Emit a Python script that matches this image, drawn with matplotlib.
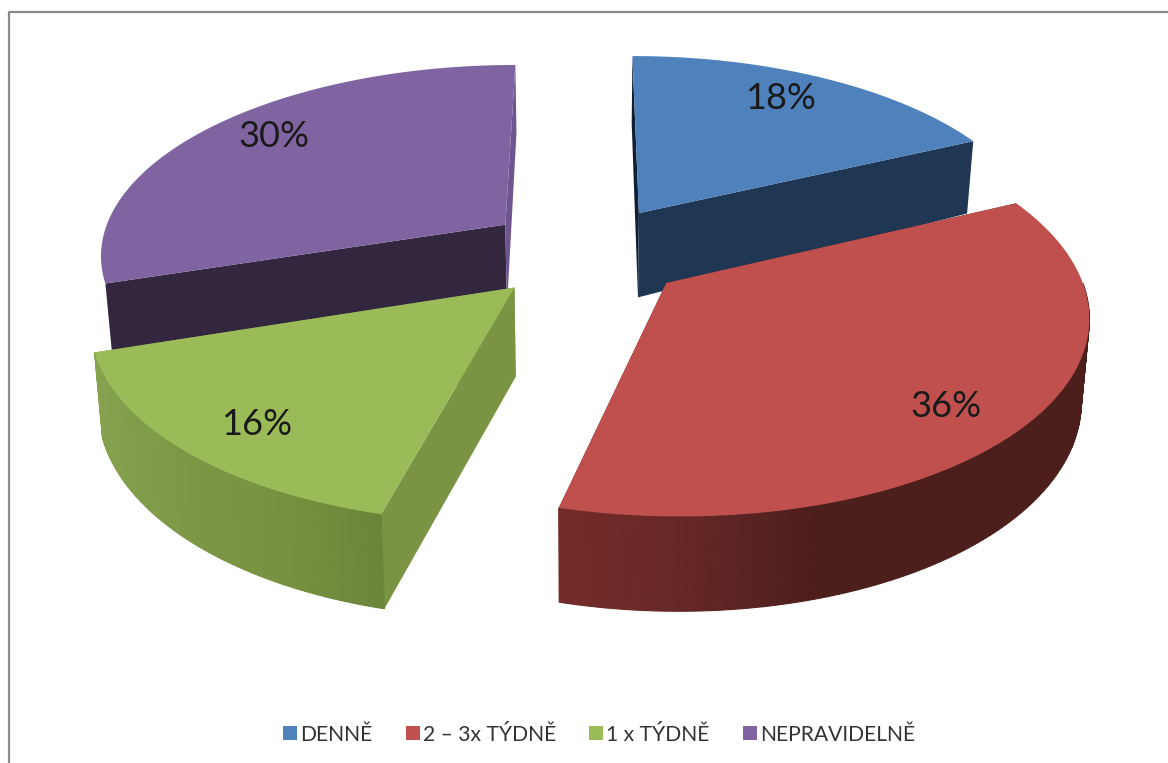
import matplotlib
matplotlib.use("Agg")
import matplotlib.pyplot as plt
from matplotlib.colors import to_rgb
from matplotlib.patches import Patch
import numpy as np

categories = ["DENNĚ", "2 – 3x TÝDNĚ", "1 x TÝDNĚ", "NEPRAVIDELNĚ"]
values = [18, 36, 16, 30]
labels = ["18%", "36%", "16%", "30%"]
colors = ["#4F81BD", "#C0504D", "#9BBB59", "#8064A2"]
# rim shading, left to right along each slice (None: rim not seen)
rim_colors = [None,
              ["#742C2A", "#652725", "#4C1E1C", "#4C1E1C", "#4C1E1C"],
              ["#86A24E", "#7C9745", "#76913F", "#6C843A"],
              None]
# cut faces at the start and the end of each slice
cut_colors = [("#0F1F33", "#1F3752"), ("#5A2320", "#5A2320"), ("#7A9444", "#7A9444"), ("#33263F", "#6E5590")]
# label shift in pixels from the default spot
label_shift = [(5, -14), (26, 26), (-29, 23), (-17, -15)]

# camera and pie
X0, Y0 = 586, 252
A, B = 407, 190
K = 0.144
EXPLODE = 0.25
DEPTH = 79
APEX_DEPTH = 1.1
TAPER = 0.016


def project(u, v, h=0.0):
    s = 1 / (1 - K * v)
    return X0 + A * u * s * (1 - TAPER * h), Y0 + B * v * s + DEPTH * h * s


def arc(start, end, n=160):
    t = np.radians(np.linspace(start, end, n))
    return np.sin(t), -np.cos(t)


fig = plt.figure(figsize=(11.68, 7.63), dpi=100)
ax = fig.add_axes([0, 0, 1, 1])
ax.set_xlim(0, 1168)
ax.set_ylim(763, 0)
ax.axis("off")

# frame of the chart area
ax.plot([9, 9, 1168], [763, 12, 12], color="#8A8A8A", lw=1.6)

edges = np.cumsum([0] + values) * 3.6
slices = []
for i in range(len(values)):
    start, end = edges[i], edges[i + 1]
    mid = np.radians((start + end) / 2)
    slices.append((start, end, EXPLODE * np.sin(mid), -EXPLODE * np.cos(mid)))

# back to front
for i in [0, 3, 2, 1]:
    start, end, au, av = slices[i]
    su, sv = arc(start, end)
    u, v = au + su, av + sv

    # cut faces
    for n, idx in enumerate((0, -1)):
        xs, ys = [], []
        for pu, pv, h in [(au, av, 0), (u[idx], v[idx], 0), (u[idx], v[idx], 1), (au, av, APEX_DEPTH)]:
            x, y = project(pu, pv, h)
            xs.append(x)
            ys.append(y)
        ax.fill(xs, ys, color=cut_colors[i][n], lw=0)

    # rim
    if rim_colors[i] is not None:
        stops = np.array([to_rgb(c) for c in rim_colors[i]])
        grid = np.linspace(0, 1, len(stops))
        x_top, y_top = project(u, v)
        x_bot, y_bot = project(u, v, 1)
        lo, hi = x_top.min(), x_top.max()
        for j in range(len(u) - 1):
            if v[j] < av:
                continue
            f = (x_top[j] - lo) / (hi - lo)
            rgb = [np.interp(f, grid, stops[:, c]) for c in range(3)]
            ax.fill([x_top[j], x_top[j + 1], x_bot[j + 1], x_bot[j]],
                    [y_top[j], y_top[j + 1], y_bot[j + 1], y_bot[j]],
                    color=rgb, lw=0.8)

    # top
    x, y = project(np.r_[au, u], np.r_[av, v])
    ax.fill(x, y, color=colors[i], lw=0)

    # percent label
    m = np.radians((start + end) / 2)
    lx, ly = project(au + 0.72 * np.sin(m), av - 0.72 * np.cos(m))
    ax.text(lx + label_shift[i][0], ly + label_shift[i][1], labels[i], fontsize=26, family="Lato",
            color="#1A1A1A", ha="center", va="center")

handles = [Patch(facecolor=c, edgecolor="none") for c in colors]
fig.legend(handles, categories, loc="lower center", bbox_to_anchor=(0.513, -0.001), ncol=4, frameon=False,
           prop={"family": "Lato", "size": 15.2}, handlelength=0.66, handleheight=0.66,
           handletextpad=0.15, columnspacing=1.58, labelcolor="#333333")

fig.savefig("out.png", dpi=100, facecolor="white")
